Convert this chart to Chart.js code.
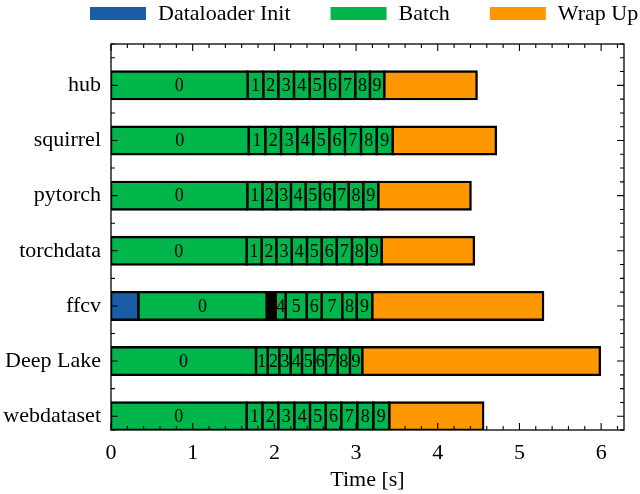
<!DOCTYPE html>
<html><head><meta charset="utf-8">
<script src="https://cdn.jsdelivr.net/npm/chart.js@4/dist/chart.umd.min.js"></script>
<style>html,body{margin:0;padding:0;background:#fff;overflow:hidden}</style>
</head><body><canvas id="c" width="640" height="494"></canvas>
<script>
const loaders = ['hub','squirrel','pytorch','torchdata','ffcv','Deep Lake','webdataset'];
const initTime = [0,0,0,0,0.335,0,0];
const hubBatches = [1.673,0.192,0.183,0.192,0.192,0.187,0.184,0.187,0.18,0.175];
const squirrelBatches = [1.685,0.204,0.192,0.2,0.196,0.195,0.192,0.196,0.192,0.196];
const pytorchBatches = [1.669,0.184,0.175,0.175,0.18,0.175,0.176,0.175,0.179,0.184];
const torchdataBatches = [1.66,0.184,0.18,0.188,0.187,0.18,0.183,0.188,0.18,0.183];
const ffcvBatches = [1.57,0.037,0.037,0.037,0.122,0.257,0.184,0.252,0.176,0.191];
const deepLakeBatches = [1.775,0.143,0.142,0.139,0.139,0.151,0.143,0.143,0.15,0.151];
const webdatasetBatches = [1.66,0.193,0.195,0.196,0.192,0.192,0.191,0.196,0.196,0.196];
const wrapUp = [1.131,1.264,1.13,1.13,2.092,2.909,1.15];
const xTicks = [0,1,2,3,4,5,6];
const seriesNames = ['Dataloader Init','Batch','Wrap Up'];

const batchRows = [hubBatches,squirrelBatches,pytorchBatches,torchdataBatches,ffcvBatches,deepLakeBatches,webdatasetBatches];
const FONT = '"Liberation Serif","Times New Roman",serif';
const BLUE = '#1a5ca8', GREEN = '#00b64b', ORANGE = '#ff9800';
const tiny = c => !!(c.raw && c.raw.x < 0.08);

const common = {borderColor:'#000', borderWidth:2.4, borderSkipped:false,
  inflateAmount: 1.2, categoryPercentage:1, barPercentage:0.5};

const datasets = [];
datasets.push(Object.assign({label:seriesNames[0], backgroundColor:BLUE,
  data: loaders.map((n,i)=>({y:i, x: initTime[i] || null}))}, common));
for (let b=0;b<10;b++){
  datasets.push(Object.assign({}, common, {label:seriesNames[1], batchIndex:b,
    backgroundColor: c => (tiny(c) ? '#000' : GREEN),
    data: loaders.map((n,i)=>({y:i, x: batchRows[i][b]}))}));
}
datasets.push(Object.assign({label:seriesNames[2], backgroundColor:ORANGE,
  data: loaders.map((n,i)=>({y:i, x: wrapUp[i]}))}, common));

const decor = {
  id:'decor',
  afterDatasetsDraw(chart){
    const ctx = chart.ctx;
    ctx.save();
    ctx.font = '18px ' + FONT;
    ctx.fillStyle = '#000'; ctx.textAlign = 'center'; ctx.textBaseline = 'middle';
    chart.data.datasets.forEach((ds,d)=>{
      if (ds.batchIndex === undefined) return;
      chart.getDatasetMeta(d).data.forEach(el=>{
        if (Math.abs(el.x - el.base) < 5) return;
        ctx.fillText(String(ds.batchIndex), (el.x+el.base)/2, el.y+1);
      });
    });
    ctx.restore();
  },
  afterDraw(chart){
    const ctx = chart.ctx, a = chart.chartArea;
    const xs = chart.scales.x, ys = chart.scales.y;
    ctx.save();
    ctx.strokeStyle = '#000'; ctx.lineWidth = 1.3;
    ctx.strokeRect(a.left, a.top, a.right-a.left, a.bottom-a.top);
    ctx.lineWidth = 1.1;
    ctx.beginPath();
    for (let k=0;k<=31;k++){
      const v = k*0.2; if (v > xs.max) break;
      const px = xs.getPixelForValue(v);
      const len = (k%5===0) ? 7 : 4;
      ctx.moveTo(px, a.bottom); ctx.lineTo(px, a.bottom-len);
      ctx.moveTo(px, a.top); ctx.lineTo(px, a.top+len);
    }
    for (let k=0;k<=28;k++){
      const v = ys.min + k*0.25; if (v > ys.max+1e-9) break;
      const py = ys.getPixelForValue(v);
      const len = (Math.abs(v-Math.round(v))<1e-9) ? 7 : 4;
      ctx.moveTo(a.left, py); ctx.lineTo(a.left+len, py);
      ctx.moveTo(a.right, py); ctx.lineTo(a.right-len, py);
    }
    ctx.stroke();
    const items = [0,1,chart.data.datasets.length-1].map(i=>chart.data.datasets[i]);
    ctx.font = '22px ' + FONT; ctx.textBaseline = 'middle'; ctx.textAlign = 'left';
    let x = 90; const boxW = 56, boxH = 13, cy = 13.5;
    items.forEach(ds=>{
      ctx.fillStyle = typeof ds.backgroundColor === 'string' ? ds.backgroundColor : GREEN;
      ctx.fillRect(x, cy-boxH/2, boxW, boxH);
      ctx.fillStyle = '#000';
      ctx.fillText(ds.label, x+boxW+12, cy+1);
      x += boxW + 12 + ctx.measureText(ds.label).width + 40;
    });
    ctx.restore();
  }
};

new Chart(document.getElementById('c'), {
  type:'bar',
  data:{datasets},
  options:{
    indexAxis:'y', responsive:false, animation:false, devicePixelRatio:1,
    layout:{padding:{top:44,right:16,left:0,bottom:0}},
    plugins:{legend:{display:false}, tooltip:{enabled:false}},
    scales:{
      x:{type:'linear', stacked:true, min:0, max:6.28,
        grid:{display:false, drawTicks:false}, border:{display:false},
        afterBuildTicks: s => { s.ticks = xTicks.map(v=>({value:v})); },
        afterFit: s => { s.height = 64; },
        ticks:{color:'#000', font:{family:FONT, size:22}, padding:10, maxRotation:0},
        title:{display:true, text:'Time [s]', color:'#000', font:{family:FONT, size:22}, padding:{top:0,bottom:1}}},
      y:{type:'linear', stacked:true, reverse:true, offset:false, min:-0.75, max:6.25,
        grid:{display:false, drawTicks:false}, border:{display:false},
        afterBuildTicks: s => { s.ticks = loaders.map((n,i)=>({value:i})); },
        afterFit: s => { s.width = 111; },
        ticks:{color:'#000', font:{family:FONT, size:22}, padding:10, callback: v => loaders[v]}}
    }
  },
  plugins:[decor]
});
</script></body></html>
